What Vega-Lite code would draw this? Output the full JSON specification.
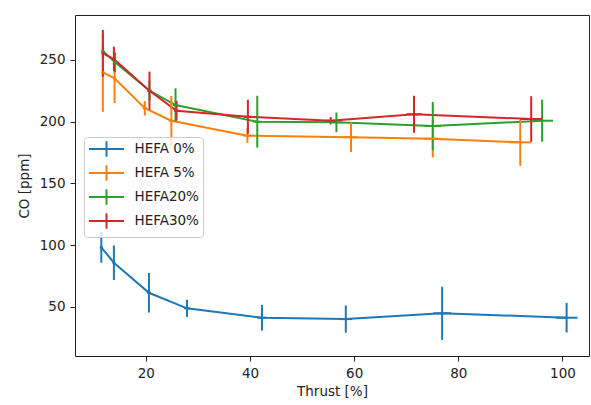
{
  "$schema": "https://vega.github.io/schema/vega-lite/v6.json",
  "width": 514,
  "height": 341,
  "autosize": {"type": "none"},
  "padding": {"left": 75, "top": 15, "right": 2, "bottom": 49},
  "config": {
    "font": "DejaVu Sans",
    "view": {"stroke": "#222", "strokeWidth": 1},
    "axis": {"grid": false, "domain": false, "tickColor": "#222", "tickSize": 5, "tickWidth": 1, "labelFontSize": 13.5, "labelColor": "#222", "titleFontSize": 13.5, "titleFontWeight": "normal", "titleColor": "#222"}
  },
  "data": {"values": [
    {"s": "HEFA 0%", "x": 11.45, "y": 98.3, "ye": 12.5, "xe": 0.3},
    {"s": "HEFA 0%", "x": 13.87, "y": 85.8, "ye": 14, "xe": 0.3},
    {"s": "HEFA 0%", "x": 20.6, "y": 61.5, "ye": 16, "xe": 0.4},
    {"s": "HEFA 0%", "x": 27.9, "y": 48.9, "ye": 7, "xe": 0.6},
    {"s": "HEFA 0%", "x": 42.3, "y": 41.3, "ye": 10.4, "xe": 0.9},
    {"s": "HEFA 0%", "x": 58.4, "y": 40.2, "ye": 11, "xe": 1.2},
    {"s": "HEFA 0%", "x": 76.9, "y": 44.9, "ye": 21.5, "xe": 1.7},
    {"s": "HEFA 0%", "x": 100.8, "y": 41.3, "ye": 12, "xe": 2.1},
    {"s": "HEFA 5%", "x": 11.75, "y": 240.0, "ye": 32, "xe": 0.3},
    {"s": "HEFA 5%", "x": 14.0, "y": 235.1, "ye": 20, "xe": 0.3},
    {"s": "HEFA 5%", "x": 19.8, "y": 210.9, "ye": 5.8, "xe": 0.4},
    {"s": "HEFA 5%", "x": 24.9, "y": 200.8, "ye": 20, "xe": 0.5},
    {"s": "HEFA 5%", "x": 39.5, "y": 188.7, "ye": 6, "xe": 0.8},
    {"s": "HEFA 5%", "x": 59.4, "y": 187.4, "ye": 12, "xe": 1.2},
    {"s": "HEFA 5%", "x": 75.1, "y": 186.2, "ye": 15.2, "xe": 1.6},
    {"s": "HEFA 5%", "x": 91.9, "y": 183.3, "ye": 19, "xe": 2.1},
    {"s": "HEFA20%", "x": 11.75, "y": 257.2, "ye": 5, "xe": 0.3},
    {"s": "HEFA20%", "x": 14.1, "y": 248.1, "ye": 8, "xe": 0.3},
    {"s": "HEFA20%", "x": 20.7, "y": 225.1, "ye": 8, "xe": 0.4},
    {"s": "HEFA20%", "x": 25.7, "y": 213.5, "ye": 13.5, "xe": 0.5},
    {"s": "HEFA20%", "x": 41.4, "y": 200.0, "ye": 21, "xe": 0.8},
    {"s": "HEFA20%", "x": 56.6, "y": 199.5, "ye": 8, "xe": 1.1},
    {"s": "HEFA20%", "x": 75.1, "y": 196.5, "ye": 19.5, "xe": 1.6},
    {"s": "HEFA20%", "x": 96.1, "y": 200.8, "ye": 17, "xe": 2.1},
    {"s": "HEFA30%", "x": 11.75, "y": 255.4, "ye": 19, "xe": 0.3},
    {"s": "HEFA30%", "x": 13.87, "y": 250.8, "ye": 10, "xe": 0.3},
    {"s": "HEFA30%", "x": 20.7, "y": 225.1, "ye": 15.5, "xe": 0.4},
    {"s": "HEFA30%", "x": 25.9, "y": 208.9, "ye": 8, "xe": 0.5},
    {"s": "HEFA30%", "x": 39.6, "y": 204.0, "ye": 13.8, "xe": 0.8},
    {"s": "HEFA30%", "x": 55.5, "y": 200.8, "ye": 3, "xe": 1.1},
    {"s": "HEFA30%", "x": 71.5, "y": 206.0, "ye": 15, "xe": 1.5},
    {"s": "HEFA30%", "x": 94.0, "y": 202.2, "ye": 18.5, "xe": 2.1}
  ]},
  "encoding": {
    "x": {"field": "x", "type": "quantitative", "scale": {"domain": [6.4, 105.1], "nice": false, "zero": false}, "axis": {"title": "Thrust [%]", "values": [20, 40, 60, 80, 100], "labelPadding": 5, "titlePadding": 5}},
    "y": {"field": "y", "type": "quantitative", "scale": {"domain": [10.3, 286.4], "nice": false, "zero": false}, "axis": {"title": "CO [ppm]", "values": [50, 100, 150, 200, 250], "labelPadding": 5, "titlePadding": 8}},
    "color": {"field": "s", "type": "nominal", "scale": {"domain": ["HEFA 0%", "HEFA 5%", "HEFA20%", "HEFA30%"], "range": ["#1f77b4", "#ff7f0e", "#2ca02c", "#d62728"]},
      "legend": {"title": null, "orient": "none", "legendX": 9, "legendY": 122, "symbolType": "M-2.5,0H2.5M0,-1.1V1.1", "symbolSize": 196, "symbolStrokeWidth": 2, "symbolOffset": 10.5, "labelOffset": 20, "labelFontSize": 13.5, "labelColor": "#222", "padding": 4, "rowPadding": 0, "strokeColor": "#cccccc", "fillColor": "rgba(255,255,255,0.8)", "cornerRadius": 3}}
  },
  "layer": [
    {"mark": {"type": "line", "strokeWidth": 2}},
    {"mark": {"type": "errorbar", "thickness": 2}, "encoding": {"yError": {"field": "ye"}}},
    {"mark": {"type": "errorbar", "thickness": 2}, "encoding": {"xError": {"field": "xe"}}}
  ]
}
